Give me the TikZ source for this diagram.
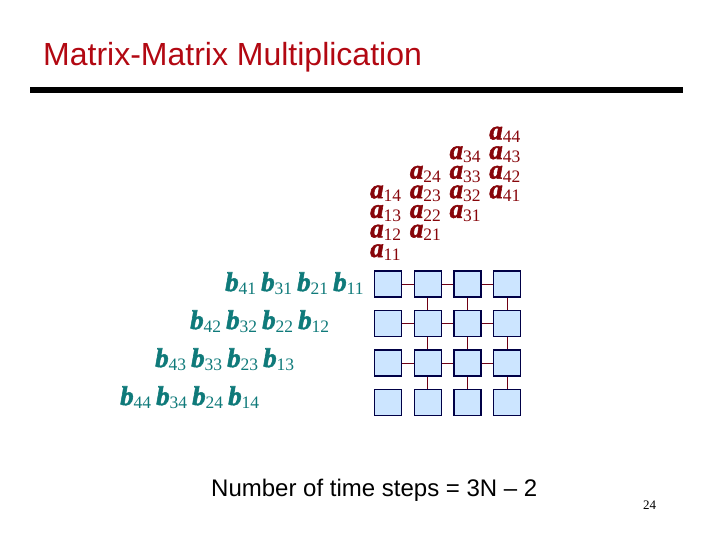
\documentclass[tikz,border=0pt]{standalone}
\usepackage{fontspec}
\newfontfamily\timesfont{Liberation Serif}
\newfontfamily\heavyfont{Liberation Serif}[BoldItalicFeatures={FakeBold=2.0}]
\newfontfamily\arialfont{Liberation Sans}
\definecolor{titlered}{RGB}{178,8,18}
\definecolor{ared}{RGB}{135,5,10}
\definecolor{bteal}{RGB}{15,122,122}
\definecolor{boxfill}{RGB}{204,229,255}
\definecolor{boxdraw}{RGB}{0,0,70}
\definecolor{linkcol}{RGB}{110,0,20}
\newcommand\ment[2]{{\heavyfont\fontsize{27pt}{27pt}\selectfont\bfseries\itshape #1}{\timesfont\fontsize{17.5pt}{17.5pt}\selectfont\raisebox{-3.5pt}{#2}}}
\tikzset{
  pe/.style={draw=boxdraw, fill=boxfill, minimum width=27pt, minimum height=26pt, inner sep=0pt, line width=1.3pt},
  linkline/.style={draw=linkcol, line width=1pt},
  alab/.style={text=ared, inner sep=0pt, anchor=base west},
  blab/.style={text=bteal, inner sep=0pt, anchor=base west}
}
\begin{document}
\begin{tikzpicture}[x=1pt,y=-1pt]
\useasboundingbox (0,0) rectangle (720,540);
% title
\node[anchor=base west, inner sep=0pt, text=titlered, font=\arialfont\fontsize{32pt}{32pt}\selectfont] (title) at (43,66) {Matrix-Matrix Multiplication};
\fill[black] (30,87.5) rectangle (683,93.5);
% processing elements
\foreach \r in {1,...,4} {
  \foreach \c in {1,...,4} {
    \node[pe] (p\r\c) at ({388+39.7*(\c-1)},{284+39.5*(\r-1)}) {};
  }
}
% horizontal links
\foreach \r in {1,2,3} {
  \foreach \c/\d in {1/2,2/3,3/4} {
    \draw[linkline] (p\r\c) -- (p\r\d);
  }
}
% vertical links
\foreach \c in {2,3,4} {
  \foreach \r/\s in {1/2,2/3,3/4} {
    \draw[linkline] (p\r\c) -- (p\s\c);
  }
}
% a entries
\foreach \c in {1,...,4} {
  \foreach \k in {1,...,4} {
    \node[alab] (a\c\k) at ({370+39.7*(\c-1)},{257-19.6*(\k-1)-19.6*(\c-1)}) {\ment{a}{\c\k}};
  }
}
% b entries
\foreach \r in {1,...,4} {
  \foreach \j/\i in {1/4,2/3,3/2,4/1} {
    \node[blab] (b\i\r) at ({225-35*(\r-1)+36*(\j-1)},{291+38*(\r-1)}) {\ment{b}{\i\r}};
  }
}
% footer
\node[anchor=base west, inner sep=0pt, font=\arialfont\fontsize{24pt}{24pt}\selectfont] (steps) at (211,496) {Number of time steps = 3N – 2};
\node[anchor=base west, inner sep=0pt, font=\timesfont\fontsize{13pt}{13pt}\selectfont] (pageno) at (643,509) {24};
\end{tikzpicture}
\end{document}
